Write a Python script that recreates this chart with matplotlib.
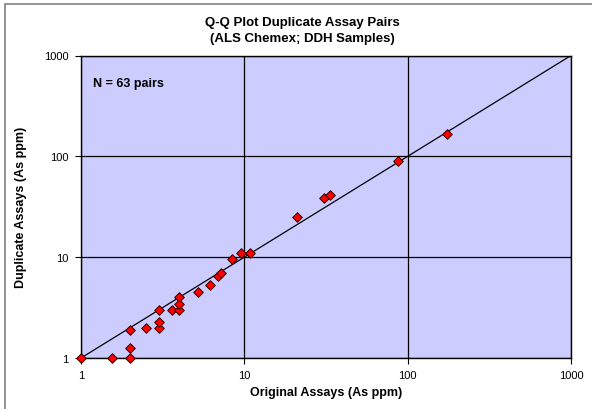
import matplotlib.pyplot as plt
from matplotlib.patches import Rectangle

plt.rcParams['font.family'] = ['Liberation Sans', 'DejaVu Sans']

# original vs duplicate As assays (ppm)
original = [1, 1.55, 2, 2, 2, 2.5, 3, 3, 3, 3.6, 4, 4, 4, 5.2, 6.2, 6.9, 7.2,
            8.4, 9.6, 10.9, 21, 30.6, 33.5, 87, 173]
duplicate = [1, 1, 1, 1.25, 1.9, 2, 2, 2.3, 3, 3, 3, 3.4, 4, 4.5, 5.3, 6.5, 7.0,
             9.5, 11, 11, 25, 38.5, 41, 89, 166]
line_xy = [1, 1000]
ticks = [1, 10, 100, 1000]
tick_labels = ["1", "10", "100", "1000"]

fig = plt.figure(figsize=(5.92, 4.10), dpi=100)
fig.patch.set_facecolor("white")
fig.patches.append(Rectangle((5/592, -0.1), 1.2, 1 - 5/410 + 0.1, transform=fig.transFigure,
                             fill=False, edgecolor="#808080", linewidth=1.2))

ax = fig.add_axes([81/592, 1 - 359/410, 490/592, 302.5/410])
ax.set_facecolor("#CCCCFF")
ax.set_xscale("log")
ax.set_yscale("log")
ax.set_xlim(1, 1000)
ax.set_ylim(1, 1000)

ax.grid(True, which="major", color="black", linewidth=0.9)
ax.plot(line_xy, line_xy, color="black", linewidth=0.9, zorder=3)
ax.scatter(original, duplicate, marker="D", s=24, color="#FF0000",
           edgecolor="#300000", linewidth=0.7, zorder=4, clip_on=False)

ax.set_xticks(ticks)
ax.set_xticklabels(tick_labels)
ax.set_yticks(ticks)
ax.set_yticklabels(tick_labels)
ax.minorticks_off()
ax.tick_params(direction="out", length=4, width=0.8, labelsize=8, pad=5, colors="black")
for s in ax.spines.values():
    s.set_color("black")
    s.set_linewidth(1.0)

ax.text(0.025, 0.91, "N = 63 pairs", transform=ax.transAxes, fontsize=9,
        fontweight="bold", va="center")

fig.text(302/592, 1 - 31/410, "Q-Q Plot Duplicate Assay Pairs\n(ALS Chemex; DDH Samples)",
         ha="center", va="center", fontsize=9.5, fontweight="bold", linespacing=1.45)
ax.set_xlabel("Original Assays (As ppm)", fontsize=9, fontweight="bold", labelpad=4)
ax.set_ylabel("Duplicate Assays (As ppm)", fontsize=9, fontweight="bold", labelpad=12)

fig.savefig("out.png", dpi=100)
